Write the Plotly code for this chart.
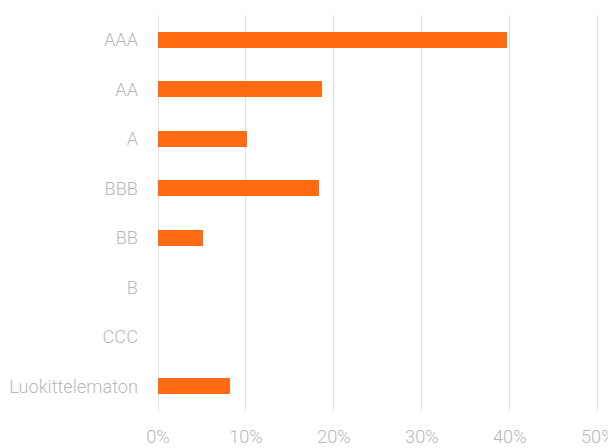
import plotly.graph_objects as go

categories = ["AAA", "AA", "A", "BBB", "BB", "B", "CCC", "Luokittelematon"]
values = [0.397, 0.186, 0.101, 0.183, 0.051, 0.0, 0.0, 0.082]
tick_vals = [0, 0.1, 0.2, 0.3, 0.4, 0.5]
tick_text = ["0%", "10%", "20%", "30%", "40%", "50%"]

fig = go.Figure(go.Bar(
    x=values, y=categories, orientation="h",
    marker=dict(color="#FF6A13", line=dict(width=0)),
    width=0.32,
))

# page has an 8px body margin, so the figure is offset by (8, 8)
font = dict(family="Roboto", size=18.2, color="#b8b8b8", weight=300)
fig.update_layout(
    width=616, height=448,
    margin=dict(l=149.5, r=24, t=6.5, b=44.5, autoexpand=False),
    plot_bgcolor="white", paper_bgcolor="white",
    showlegend=False,
    font=font,
    bargap=0,
)
fig.update_xaxes(range=[0, 0.5025], tickvals=tick_vals, ticktext=tick_text,
                 showgrid=True, gridcolor="#e2e2e2", gridwidth=1.2,
                 zeroline=True, zerolinecolor="#e2e2e2", zerolinewidth=1.2,
                 showline=False, ticks="", tickfont=font, ticklabelstandoff=13,
                 automargin=False)
fig.update_yaxes(categoryorder="array", categoryarray=categories[::-1],
                 showgrid=False, zeroline=False, showline=False, ticks="",
                 tickfont=font, ticklabelstandoff=19, automargin=False)
fig.write_html("out.html")
